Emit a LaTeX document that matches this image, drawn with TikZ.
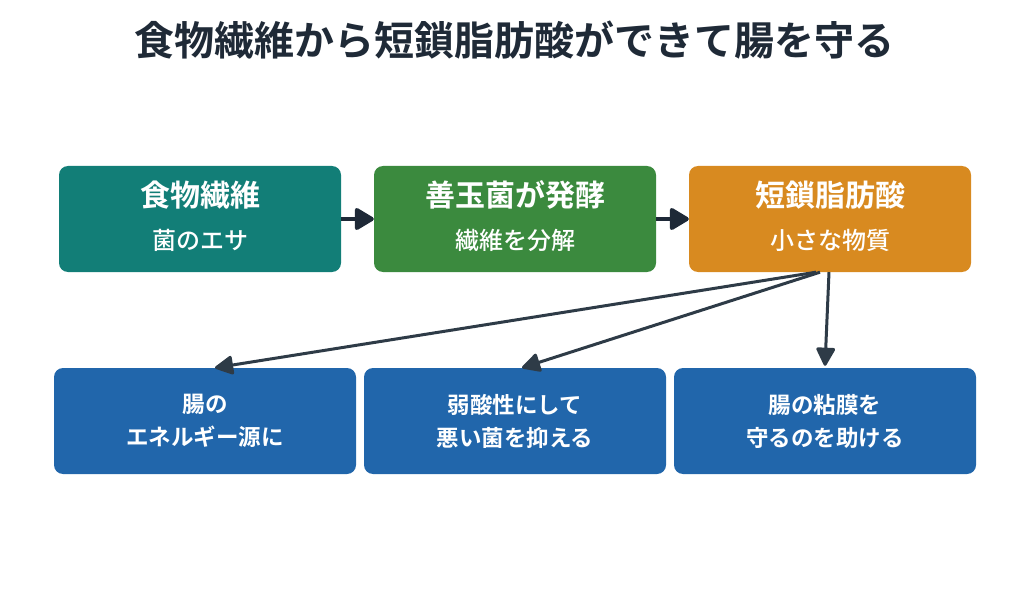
\documentclass[tikz,border=0pt]{standalone}
\usepackage{fontspec}
\setmainfont{Noto Sans CJK JP}[BoldFont={Noto Sans CJK JP Bold}]
\newfontfamily\jpmed{Noto Sans CJK JP Medium}
\usetikzlibrary{arrows.meta,calc}
\definecolor{titlec}{HTML}{1F2A37}
\definecolor{tealc}{HTML}{127E77}
\definecolor{greenc}{HTML}{3B8A3E}
\definecolor{orangec}{HTML}{D88A20}
\definecolor{bluec}{HTML}{2166AB}
\definecolor{arrowa}{HTML}{1E2937}
\definecolor{arrowb}{HTML}{2E3B47}
\tikzset{
  topbox/.style={rounded corners=9pt, minimum width=282pt, minimum height=106pt, inner sep=0pt, text=white, align=center},
  botbox/.style={rounded corners=9pt, fill=bluec, minimum width=302pt, minimum height=106pt, inner sep=0pt, text=white, align=center, font=\bfseries\fontsize{22.5}{33}\selectfont},
  flowarrow/.style={draw=arrowa, line width=4pt, -{Triangle[length=21pt,width=24pt,round]}},
  splitarrow/.style={draw=arrowb, line width=3pt, -{Triangle[length=20pt,width=20pt,round]}},
  bigt/.style={font=\bfseries\fontsize{30}{32}\selectfont},
  subt/.style={font=\jpmed\fontsize{24}{26}\selectfont},
}
\begin{document}
\begin{tikzpicture}[x=1pt,y=-1pt]
\useasboundingbox (0,0) rectangle (1029,607);
\node[text=titlec, font=\bfseries\fontsize{40}{42}\selectfont] (title) at (514.5,40) {食物繊維から短鎖脂肪酸ができて腸を守る};

\node[topbox, fill=tealc] (a) at (200,219) {};
\node[topbox, fill=greenc] (b) at (515,219) {};
\node[topbox, fill=orangec] (c) at (830,219) {};
\node[bigt, text=white] (a1) at (200,195) {食物繊維};
\node[subt, text=white] (a2) at (200,240) {菌のエサ};
\node[bigt, text=white] (b1) at (515,195) {善玉菌が発酵};
\node[subt, text=white] (b2) at (515,240) {繊維を分解};
\node[bigt, text=white] (c1) at (830,195) {短鎖脂肪酸};
\node[subt, text=white] (c2) at (830,240) {小さな物質};

\node[botbox] (d) at (205,421) {腸の\\エネルギー源に};
\node[botbox] (e) at (515,421) {弱酸性にして\\悪い菌を抑える};
\node[botbox] (f) at (825,421) {腸の粘膜を\\守るのを助ける};

\draw[flowarrow] (a.east) -- (b.west);
\draw[flowarrow] (b.east) -- (c.west);

\coordinate (s1) at ($(c.south)+(-14,0)$);
\coordinate (s2) at ($(c.south)+(-10,0)$);
\coordinate (s3) at ($(c.south)+(-1,0)$);
\draw[splitarrow] (s1) -- ($(d.north)+(10,0)$);
\draw[splitarrow] (s2) -- ($(e.north)+(7,0)$);
\draw[splitarrow] (s3) -- ($(f.north)+(0,-2)$);
\end{tikzpicture}
\end{document}
